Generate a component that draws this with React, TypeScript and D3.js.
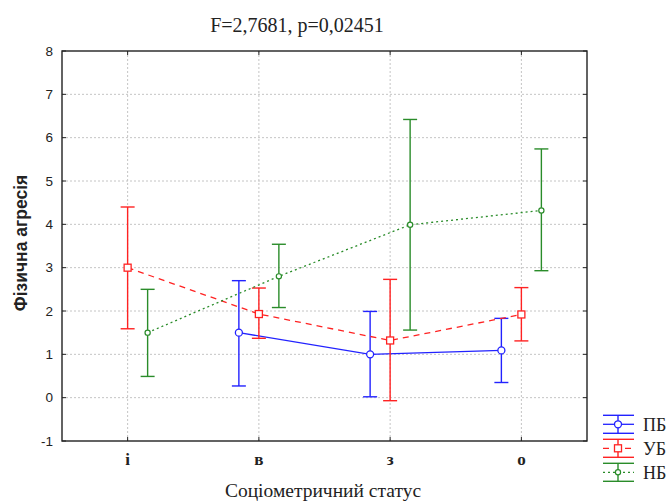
import React from "react";
import * as d3 from "d3";

// Socio-metric status groups along the x axis
const categories = ["і", "в", "з", "о"];
const yTicks = [-1, 0, 1, 2, 3, 4, 5, 6, 7, 8];

// Group means with lower / upper confidence limits (null = no data)
const pbMean = [null, 1.5, 1.0, 1.09];
const pbLow = [null, 0.27, 0.02, 0.35];
const pbHigh = [null, 2.7, 1.99, 1.83];

const ubMean = [3.0, 1.93, 1.32, 1.92];
const ubLow = [1.59, 1.37, -0.07, 1.31];
const ubHigh = [4.4, 2.53, 2.73, 2.54];

const nbMean = [1.5, 2.8, 3.99, 4.32];
const nbLow = [0.49, 2.08, 1.56, 2.93];
const nbHigh = [2.5, 3.54, 6.42, 5.74];

const seriesNames = ["ПБ", "УБ", "НБ"];

const W = 668;
const H = 503;
const left = 62;
const right = 587;
const top = 51;
const bottom = 441;

type Series = {
  name: string;
  mean: (number | null)[];
  low: (number | null)[];
  high: (number | null)[];
  color: string;
  dash: string | undefined;
  offset: number;
  marker: "circle" | "square" | "small";
};

const series: Series[] = [
  { name: seriesNames[0], mean: pbMean, low: pbLow, high: pbHigh, color: "#2222ff", dash: undefined, offset: -20, marker: "circle" },
  { name: seriesNames[1], mean: ubMean, low: ubLow, high: ubHigh, color: "#ff2222", dash: "6,5", offset: 0, marker: "square" },
  { name: seriesNames[2], mean: nbMean, low: nbLow, high: nbHigh, color: "#2a8c2a", dash: "2,3", offset: 20, marker: "small" },
];

function Marker({ kind, x, y, color }: { kind: string; x: number; y: number; color: string }) {
  if (kind === "square") {
    return <rect x={x - 3.5} y={y - 3.5} width={7} height={7} fill="#fff" stroke={color} strokeWidth={1.3} />;
  }
  if (kind === "circle") {
    return <circle cx={x} cy={y} r={3.5} fill="#fff" stroke={color} strokeWidth={1.3} />;
  }
  return <circle cx={x} cy={y} r={2.6} fill="#fff" stroke={color} strokeWidth={1.2} />;
}

const serif = "Liberation Serif, Times New Roman, serif";
const sans = "Liberation Sans, Arial, sans-serif";

export default function App() {
  const x = d3.scaleLinear().domain([-0.5, 3.5]).range([left, right]);
  const y = d3.scaleLinear().domain([-1, 8]).range([bottom, top]);
  const cap = 7;

  return (
    <svg width={W} height={H} style={{ position: "absolute", left: 0, top: 0, background: "#fff" }}>
      {/* grid */}
      {yTicks.filter((t) => t > -1 && t < 8).map((t) => (
        <line key={"gy" + t} x1={left} x2={right} y1={y(t)} y2={y(t)} stroke="#c4c4c4" strokeWidth={1} strokeDasharray="2,2" />
      ))}
      {categories.map((c, i) => (
        <line key={"gx" + c} x1={x(i)} x2={x(i)} y1={top} y2={bottom} stroke="#c4c4c4" strokeWidth={1} strokeDasharray="2,2" />
      ))}

      {/* frame and ticks */}
      <rect x={left} y={top} width={right - left} height={bottom - top} fill="none" stroke="#222" strokeWidth={1.4} />
      {yTicks.map((t) => (
        <g key={"ty" + t}>
          <line x1={left} x2={left + 4} y1={y(t)} y2={y(t)} stroke="#222" />
          <line x1={right - 4} x2={right} y1={y(t)} y2={y(t)} stroke="#222" />
          <text x={53} y={y(t)} dy="0.35em" textAnchor="end" fontFamily={sans} fontSize={13.5} fill="#222">
            {t}
          </text>
        </g>
      ))}
      {categories.map((c, i) => (
        <g key={"tx" + c}>
          <line x1={x(i)} x2={x(i)} y1={bottom} y2={bottom - 4} stroke="#222" />
          <line x1={x(i)} x2={x(i)} y1={top} y2={top + 4} stroke="#222" />
          <text x={x(i)} y={465} textAnchor="middle" fontFamily={serif} fontWeight="bold" fontSize={17} fill="#222">
            {c}
          </text>
        </g>
      ))}

      {/* series */}
      {series.map((s) => {
        const pts = s.mean
          .map((m, i) => (m === null ? null : ([x(i) + s.offset, y(m)] as [number, number])))
          .filter((p): p is [number, number] => p !== null);
        const path = d3.line()(pts) || "";
        return (
          <g key={s.name}>
            <path d={path} fill="none" stroke={s.color} strokeWidth={1.3} strokeDasharray={s.dash} />
            {s.mean.map((m, i) => {
              if (m === null) return null;
              const cx = x(i) + s.offset;
              const lo = y(s.low[i] as number);
              const hi = y(s.high[i] as number);
              return (
                <g key={i}>
                  <line x1={cx} x2={cx} y1={lo} y2={hi} stroke={s.color} strokeWidth={1.4} />
                  <line x1={cx - cap} x2={cx + cap} y1={lo} y2={lo} stroke={s.color} strokeWidth={1.4} />
                  <line x1={cx - cap} x2={cx + cap} y1={hi} y2={hi} stroke={s.color} strokeWidth={1.4} />
                  <Marker kind={s.marker} x={cx} y={y(m)} color={s.color} />
                </g>
              );
            })}
          </g>
        );
      })}

      {/* title */}
      <text x={297} y={32} textAnchor="middle" fontFamily={serif} fontSize={20} fill="#222">
        F=2,7681, p=0,02451
      </text>

      {/* axis titles */}
      <text x={323} y={497} textAnchor="middle" fontFamily={serif} fontSize={19.5} fill="#222">
        Соціометричний статус
      </text>
      <text transform={`translate(27,243) rotate(-90)`} textAnchor="middle" fontFamily={sans} fontWeight="bold" fontSize={17.5} fill="#222">
        Фізична агресія
      </text>

      {/* legend */}
      {series.map((s, k) => {
        const cy = 424.3 + k * 24;
        const x0 = 603;
        const x1 = 634;
        const xm = 618;
        return (
          <g key={"lg" + s.name}>
            <line x1={x0} x2={x1} y1={cy - 9} y2={cy - 9} stroke={s.color} strokeWidth={1.4} />
            <line x1={x0} x2={x1} y1={cy + 9} y2={cy + 9} stroke={s.color} strokeWidth={1.4} />
            <line x1={xm} x2={xm} y1={cy - 9} y2={cy + 9} stroke={s.color} strokeWidth={1.4} />
            <line x1={x0} x2={x1} y1={cy} y2={cy} stroke={s.color} strokeWidth={1.3} strokeDasharray={s.dash} />
            <Marker kind={s.marker} x={xm} y={cy} color={s.color} />
            <text x={643} y={cy} dy="0.35em" fontFamily={serif} fontSize={18} fill="#222">
              {s.name}
            </text>
          </g>
        );
      })}
    </svg>
  );
}
